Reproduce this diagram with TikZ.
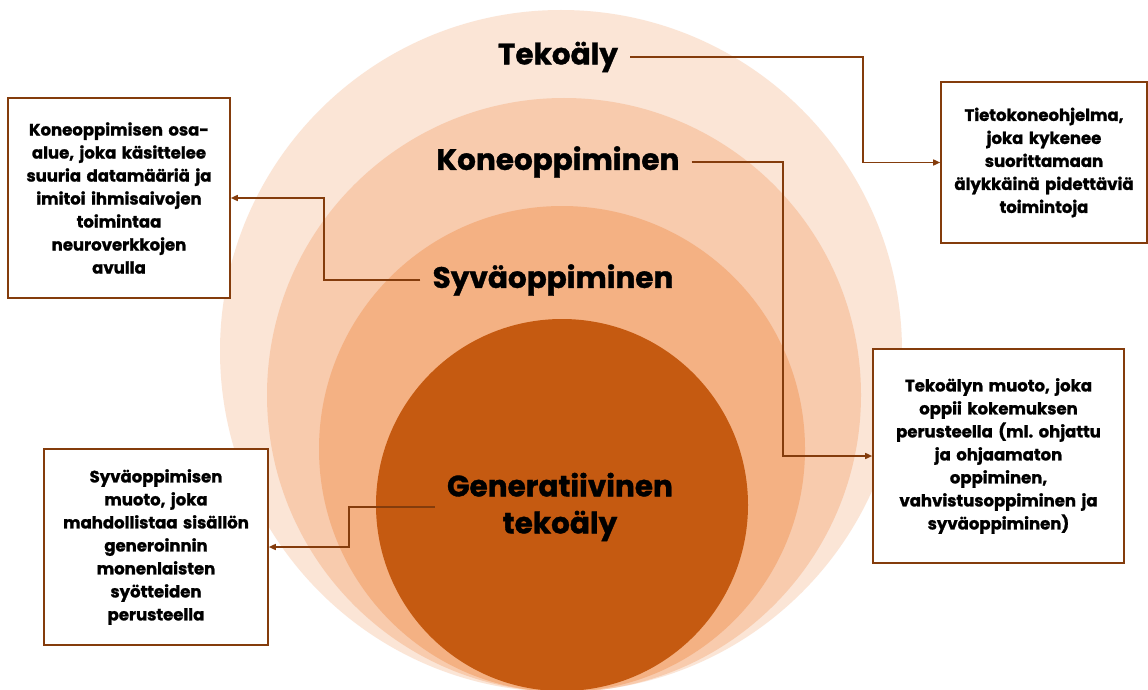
\documentclass[tikz,border=0pt]{standalone}
\usepackage{fontspec}
\setmainfont{Poppins}[BoldFeatures={FakeBold=1.2}]
\usetikzlibrary{arrows.meta}
\definecolor{ring1}{HTML}{FBE5D6}
\definecolor{ring2}{HTML}{F8CBAD}
\definecolor{ring3}{HTML}{F4B183}
\definecolor{ring4}{HTML}{C55A11}
\definecolor{frame}{HTML}{843C0C}
\tikzset{
  biglabel/.style={font=\bfseries\fontsize{29.5}{37}\selectfont, text=black, inner sep=12pt, align=center},
  infobox/.style={draw=frame, line width=1.6pt, fill=white, align=center, inner sep=4pt,
    font=\bfseries\fontsize{16.5}{23}\selectfont, text=black},
  conn/.style={draw=frame, line width=1.5pt, -{Triangle[length=7pt,width=6pt]}}
}
\begin{document}
\begin{tikzpicture}[x=1pt,y=-1pt]
\useasboundingbox (0,0) rectangle (1148,690);
\fill[white] (0,0) rectangle (1148,690);
% rings
\fill[ring1] (561,351) circle (341pt);
\fill[ring2] (564,395) circle (297pt);
\fill[ring3] (562,449) circle (243pt);
\fill[ring4] (562,505) circle (186pt);
% labels
\node[biglabel] (tek) at (558,57) {Tekoäly};
\node[biglabel] (kone) at (558,162) {Koneoppiminen};
\node[biglabel] (syva) at (553,280) {Syväoppiminen};
\node[biglabel] (gen) at (560,507) {Generatiivinen\\tekoäly};
% boxes
\node[infobox, text width=214pt, minimum width=220pt, minimum height=200pt] (b1) at (119,198)
  {Koneoppimisen osa-\\alue, joka käsittelee\\suuria datamääriä ja\\imitoi ihmisaivojen\\toimintaa\\neuroverkkojen\\avulla};
\node[infobox, text width=216pt, minimum width=222pt, minimum height=196pt] (b2) at (156,547)
  {Syväoppimisen\\muoto, joka\\mahdollistaa sisällön\\generoinnin\\monenlaisten\\syötteiden\\perusteella};
\node[infobox, text width=198pt, minimum width=204pt, minimum height=161pt] (b3) at (1044,162.5)
  {Tietokoneohjelma,\\joka kykenee\\suorittamaan\\älykkäinä pidettäviä\\toimintoja};
\node[infobox, text width=243pt, minimum width=249pt, minimum height=214pt] (b4) at (998.5,456)
  {Tekoälyn muoto, joka\\oppii kokemuksen\\perusteella (ml.\ ohjattu\\ja ohjaamaton\\oppiminen,\\vahvistusoppiminen ja\\syväoppiminen)};
% connectors
\coordinate (t1) at (863,57);
\coordinate (k1) at (783,162);
\coordinate (s1) at (324,280);
\coordinate (g1) at (349,507);
\draw[conn] (tek.east) -- (t1) |- (b3.west);
\draw[conn] (kone.east) -- (k1) |- (b4.west);
\draw[conn] (syva.west) -- (s1) |- (b1.east);
\draw[conn] (gen.west) -- (g1) |- (b2.east);
\end{tikzpicture}
\end{document}
